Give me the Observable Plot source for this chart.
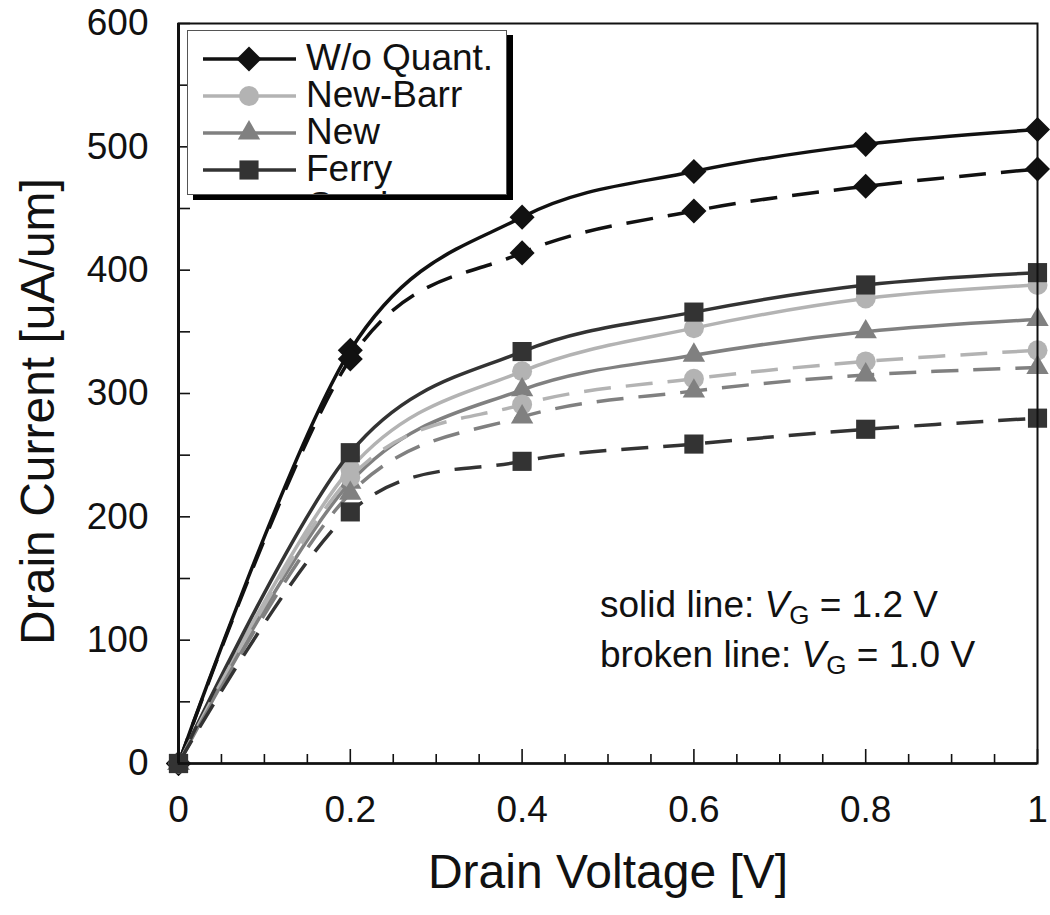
<!DOCTYPE html>
<html>
<head>
<meta charset="utf-8">
<script src="https://cdn.jsdelivr.net/npm/d3@7"></script>
<script src="https://cdn.jsdelivr.net/npm/@observablehq/plot@0.6"></script>
<style>
  body { margin: 0; background: #fff; }
  #wrap { position: relative; width: 1050px; height: 915px; font-family: "Liberation Sans", Arial, sans-serif; color: #111; }
  #chart { position: absolute; left: 0; top: 0; }
  #legend { position: absolute; left: 187px; top: 30px; width: 318px; height: 163px; border: 1px solid #555; background: #fff; box-shadow: 6px 5px 0 0 #000; overflow: hidden; }
  .note { position: absolute; left: 600px; font-size: 37px; line-height: 37px; white-space: nowrap; }
  .note i { font-style: italic; }
  .note .sub { font-size: 26px; position: relative; top: 7px; line-height: 0; }
</style>
</head>
<body>
<div id="wrap">
  <div id="chart"></div>
  <div id="legend"></div>
  <div class="note" style="top:586px">solid line: <i>V</i><span class="sub">G</span> = 1.2 V</div>
  <div class="note" style="top:636px">broken line: <i>V</i><span class="sub">G</span> = 1.0 V</div>
</div>
<script>
// ---- data ----
const drainVoltage = [0, 0.2, 0.4, 0.6, 0.8, 1.0];
const woQuantVg12 = [0, 335, 443, 480, 502, 514];
const woQuantVg10 = [0, 328, 414, 448, 468, 482];
const newBarrVg12 = [0, 239, 318, 353, 377, 388];
const newBarrVg10 = [0, 232, 291, 312, 326, 335];
const newVg12     = [0, 228, 303, 331, 350, 360];
const newVg10     = [0, 219, 281, 302, 315, 321];
const ferryVg12   = [0, 252, 334, 366, 388, 398];
const ferryVg10   = [0, 204, 245, 259, 271, 280];

const models = ["W/o Quant.", "New-Barr", "New", "Ferry"];
const legendExtra = "Gardner";
const xTicks = [0, 0.2, 0.4, 0.6, 0.8, 1];
const xTickLabels = ["0", "0.2", "0.4", "0.6", "0.8", "1"];
const xMinorTicks = d3.range(0, 21).map(i => i * 0.05).filter(v => Math.abs(v * 5 - Math.round(v * 5)) > 1e-6);
const yTicks = [0, 100, 200, 300, 400, 500, 600];
const yMinorTicks = d3.range(0, 13).map(i => i * 50);
const xTitle = "Drain Voltage [V]";
const yTitle = "Drain Current [uA/um]";

// ---- styling ----
const style = {
  "W/o Quant.": {color: "#111111", symbol: "diamond2", r: 11.3},
  "New-Barr":   {color: "#b3b3b3", symbol: "circle", r: 10},
  "New":        {color: "#808080", symbol: "triangle", r: 8.3},
  "Ferry":      {color: "#333333", symbol: "square", r: 10.8}
};
const seriesVg12 = [woQuantVg12, newBarrVg12, newVg12, ferryVg12];
const seriesVg10 = [woQuantVg10, newBarrVg10, newVg10, ferryVg10];

function rows(values) { return drainVoltage.map((v, i) => ({vd: v, id: values[i]})); }

const W = 1050, H = 915, mL = 178, mR = 13, mT = 23, mB = 152;
const innerW = W - mL - mR, innerH = H - mT - mB;
const font = "Liberation Sans, Arial, sans-serif";

const marks = [];
function addSeries(values, model, dashed) {
  const s = style[model];
  const data = rows(values);
  marks.push(Plot.line(data, {x: "vd", y: "id", stroke: s.color, strokeWidth: 3.5, curve: "cardinal",
    strokeDasharray: dashed ? "27,15" : null, strokeLinecap: "butt", strokeLinejoin: "round"}));
  marks.push(Plot.dot(data, {x: "vd", y: "id", symbol: s.symbol, r: s.r, fill: s.color, stroke: "none"}));
}
models.forEach((m, i) => addSeries(seriesVg12[i], m, false));
models.forEach((m, i) => addSeries(seriesVg10[i], m, true));

const chart = Plot.plot({
  width: W, height: H,
  marginLeft: mL, marginRight: mR, marginTop: mT, marginBottom: mB,
  style: {background: "white", fontFamily: font, overflow: "visible"},
  x: {domain: [0, 1], axis: null},
  y: {domain: [0, 600], axis: null},
  marks: [
    Plot.tickX(xMinorTicks, {x: d => d, insetTop: innerH - 9, stroke: "#111", strokeWidth: 1.6}),
    Plot.tickX(xTicks, {x: d => d, insetTop: innerH - 14, stroke: "#111", strokeWidth: 1.6}),
    Plot.tickY(yMinorTicks, {y: d => d, insetRight: innerW - 12, stroke: "#111", strokeWidth: 1.6}),
    ...marks,
    Plot.frame({stroke: "#111", strokeWidth: 2}),
    Plot.ruleX([0], {stroke: "#111", strokeWidth: 3}),
    Plot.ruleY([0], {stroke: "#111", strokeWidth: 2.5}),
    Plot.text(xTicks, {x: d => d, frameAnchor: "bottom", dy: 58, text: (d, i) => xTickLabels[i], fontSize: 37, fill: "#111", fontFamily: font}),
    Plot.text(yTicks, {y: d => d, frameAnchor: "left", dx: -30, textAnchor: "end", text: d => String(d), fontSize: 37, fill: "#111", fontFamily: font}),
    Plot.text([xTitle], {frameAnchor: "bottom", dy: 124, textAnchor: "middle", text: d => d, fontSize: 48, fill: "#111", fontFamily: font}),
    Plot.text([yTitle], {frameAnchor: "left", dx: -140, dy: 18, rotate: -90, textAnchor: "middle", text: d => d, fontSize: 48, fill: "#111", fontFamily: font})
  ]
});
document.getElementById("chart").appendChild(chart);

// ---- legend (Excel-style box) ----
const leg = d3.select("#legend").append("svg").attr("width", 318).attr("height", 163);
const symMap = {diamond2: d3.symbolDiamond2, circle: d3.symbolCircle, triangle: d3.symbolTriangle, square: d3.symbolSquare};
models.forEach((m, i) => {
  const s = style[m];
  const cy = 28 + i * 37;
  leg.append("line").attr("x1", 15).attr("x2", 108).attr("y1", cy).attr("y2", cy)
    .attr("stroke", s.color).attr("stroke-width", 3.5);
  leg.append("path").attr("transform", `translate(61,${cy})`)
    .attr("d", d3.symbol(symMap[s.symbol], Math.PI * s.r * s.r)()).attr("fill", s.color);
  leg.append("text").attr("x", 118).attr("y", cy + 11).attr("font-size", 37)
    .attr("font-family", font).attr("fill", "#111").text(m);
});
leg.append("text").attr("x", 118).attr("y", 28 + 4 * 37 + 11).attr("font-size", 37)
  .attr("font-family", font).attr("fill", "#111").text(legendExtra);
</script>
</body>
</html>
